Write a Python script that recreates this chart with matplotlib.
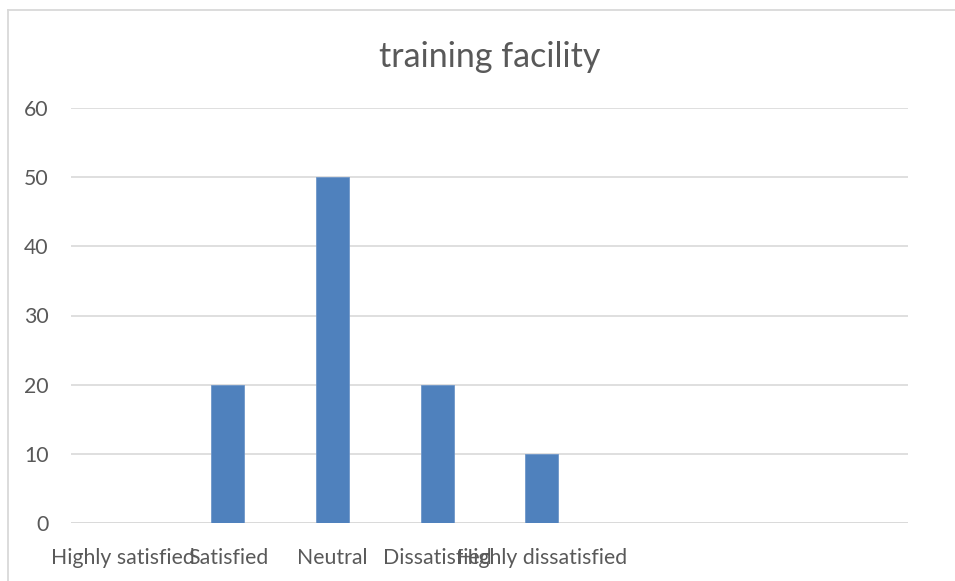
import matplotlib
matplotlib.use("Agg")
import matplotlib.pyplot as plt
from matplotlib.lines import Line2D

categories = ["Highly satisfied", "Satisfied", "Neutral", "Dissatisfied", "Highly dissatisfied"]
values = [0, 20, 50, 20, 10]
y_ticks = [0, 10, 20, 30, 40, 50, 60]
title = "training facility"

W, H = 955, 581
n_slots = 8  # category axis reserves room for three unused slots

plt.rcParams["font.family"] = ["Lato", "DejaVu Sans"]
text_color = "#595959"
grid_color = "#D9D9D9"
bar_color = "#4F81BD"

fig = plt.figure(figsize=(W / 100, H / 100), dpi=100)
fig.patch.set_facecolor("white")

# chart-area frame: only its left and top edges fall inside the image
fx, fy = 7.5 / W, 1 - 9.5 / H
fig.lines.append(Line2D([fx, fx], [-0.1, fy], transform=fig.transFigure,
                        color=grid_color, linewidth=1.3))
fig.lines.append(Line2D([fx, 1.1], [fy, fy], transform=fig.transFigure,
                        color=grid_color, linewidth=1.3))

left, right, top, bottom = 71, 908, 108, 523
ax = fig.add_axes([left / W, 1 - bottom / H, (right - left) / W, (bottom - top) / H])

x = list(range(len(categories)))
ax.bar(x, values, width=0.315, color=bar_color, edgecolor="#6F97C9", linewidth=0.6, zorder=3)

ax.set_xlim(-0.5, n_slots - 0.5)
ax.set_ylim(y_ticks[0], y_ticks[-1])
ax.set_yticks(y_ticks)
ax.set_xticks(x)
ax.set_xticklabels(categories)

for s in ax.spines.values():
    s.set_visible(False)
ax.yaxis.grid(True, color=grid_color, linewidth=1.2, zorder=0)
ax.set_axisbelow(True)
ax.axhline(0, color=grid_color, linewidth=1.2, zorder=1)

ax.tick_params(axis="both", length=0, colors=text_color, labelsize=15.3)
ax.tick_params(axis="y", pad=16)
ax.tick_params(axis="x", pad=18)

fig.text((left + right) / 2 / W, 1 - 57 / H, title, ha="center", va="center",
         fontsize=24.5, color=text_color)

fig.savefig("out.png", dpi=100, facecolor="white")
